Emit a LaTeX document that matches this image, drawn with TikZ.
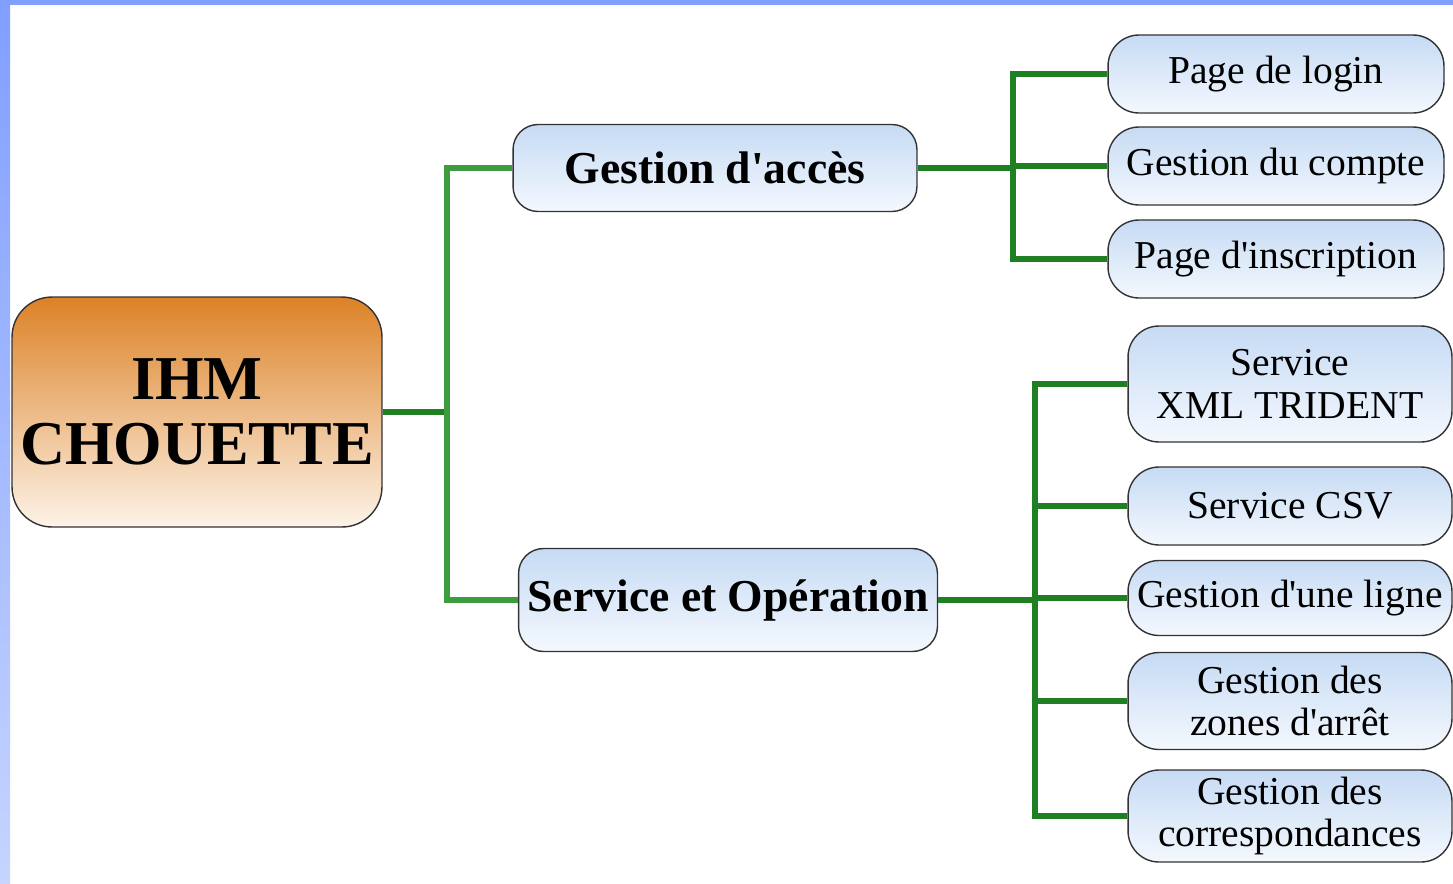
\documentclass[tikz,border=0pt]{standalone}
\usepackage{fontspec}
\setmainfont{Liberation Serif}[Ligatures=TeXOff]
\definecolor{cadrebleu}{HTML}{809FFF}
\definecolor{orangehaut}{HTML}{DC8226}
\definecolor{orangemilieu}{HTML}{EFB468}
\definecolor{orangebas}{HTML}{FDF3E8}
\definecolor{bleuhaut}{HTML}{C6DBF4}
\definecolor{bleubas}{HTML}{F4F8FE}
\definecolor{vert}{HTML}{1F7F22}
\definecolor{vertclair}{HTML}{3C9C3E}
\begin{document}
\begin{tikzpicture}[x=0.02cm, y=-0.02cm, line join=miter,
box/.style={draw=black!80, line width=0.8pt, inner sep=0pt, align=center},
root node/.style={box, rounded corners=0.8cm, minimum width=7.4cm, minimum height=4.6cm, top color=orangehaut, middle color=orangemilieu, bottom color=orangebas, font=\fontsize{35.5}{37}\selectfont\bfseries},
main node/.style={box, rounded corners=0.5cm, top color=bleuhaut, bottom color=bleubas, font=\fontsize{26}{30}\selectfont\bfseries},
leaf node/.style={box, rounded corners=0.62cm, top color=bleuhaut, bottom color=bleubas, font=\fontsize{22.5}{24}\selectfont},
link/.style={draw=vert, line width=3.4pt}]
\useasboundingbox (0,0) rectangle (1453,883);
\fill[cadrebleu] (0,0) rectangle (1453,5);
\shade[top color=cadrebleu, bottom color=cadrebleu!45] (0,0) rectangle (10,883);
\begin{scope}
\node[root node] (ihm) at (197,412) {IHM\\CHOUETTE};
\node[main node, minimum width=8.08cm, minimum height=1.74cm] (acces) at (715,168) {Gestion d'accès};
\node[main node, minimum width=8.38cm, minimum height=2.06cm] (service) at (728,600) {Service et Opération};
\node[leaf node, minimum width=6.72cm, minimum height=1.56cm] (login) at (1276,74) {Page de login};
\node[leaf node, minimum width=6.72cm, minimum height=1.56cm] (compte) at (1276,166) {Gestion du compte};
\node[leaf node, minimum width=6.72cm, minimum height=1.56cm] (inscription) at (1276,259) {Page d'inscription};
\node[leaf node, minimum width=6.48cm, minimum height=2.32cm] (xml) at (1290,384) {Service\\XML TRIDENT};
\node[leaf node, minimum width=6.48cm, minimum height=1.56cm] (csv) at (1290,506) {Service CSV};
\node[leaf node, minimum width=6.48cm, minimum height=1.5cm] (ligne) at (1290,598) {Gestion d'une ligne};
\node[leaf node, minimum width=6.48cm, minimum height=1.94cm] (zones) at (1290,701) {Gestion des\\zones d'arrêt};
\node[leaf node, minimum width=6.48cm, minimum height=1.84cm] (corresp) at (1290,816) {Gestion des\\correspondances};
\coordinate (j0) at (447,412);
\coordinate (j1) at (1013,168);
\coordinate (j2) at (1035,600);
\end{scope}
\begin{scope}
\draw[link] (ihm.east) -- (j0);
\draw[link, draw=vertclair] (j0) |- (acces.west);
\draw[link, draw=vertclair] (j0) |- (service.west);
\draw[link] (acces.east) -- (j1);
\draw[link] (j1) |- (login.west);
\draw[link] (j1) |- (compte.west);
\draw[link] (j1) |- (inscription.west);
\draw[link] (service.east) -- (j2);
\draw[link] (j2) |- (xml.west);
\draw[link] (j2) |- (csv.west);
\draw[link] (j2) |- (ligne.west);
\draw[link] (j2) |- (zones.west);
\draw[link] (j2) |- (corresp.west);
\end{scope}
\end{tikzpicture}
\end{document}
